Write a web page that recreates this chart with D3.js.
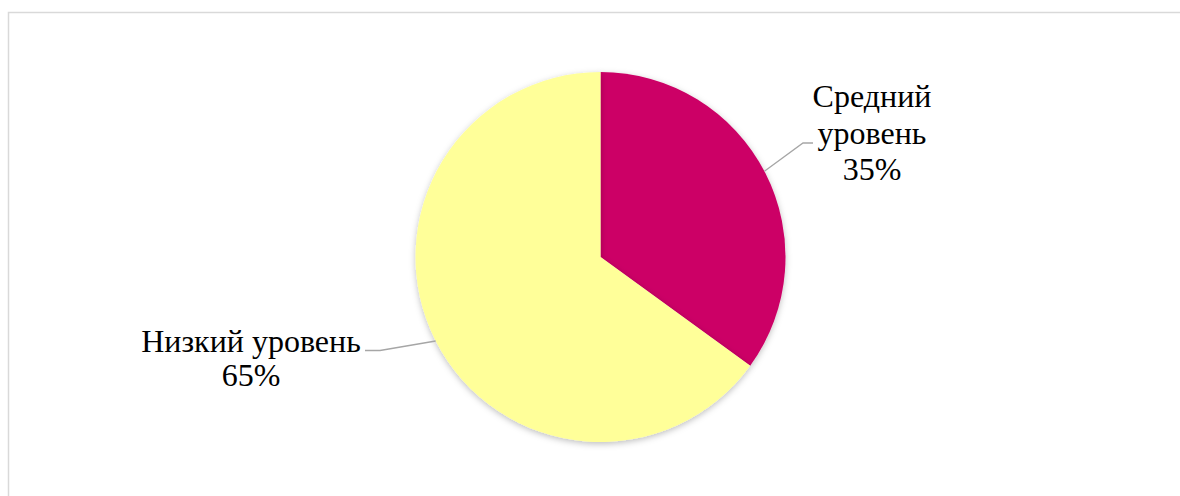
<!DOCTYPE html>
<html>
  <head>
    <meta charset="utf-8">
    <title>Уровни</title>
    <script src="https://cdn.jsdelivr.net/npm/d3@7"></script>
    <style>
      body { margin: 0; background: #fff; }
    </style>
  </head>
  <body>
    <div id="main"></div>
    <script>
      var WIDTH = 1180, HEIGHT = 496;
      var CX = 600.5, CY = 257, RADIUS = 185;

      var categories = ["Средний уровень", "Низкий уровень"];
      var values = [35, 65];
      var colors = ["#CC0066", "#FFFF99"];
      // label lines, one array per category
      var labelLines = [["Средний", "уровень", "35%"], ["Низкий уровень", "65%"]];

      var svg = d3.select('#main').append('svg')
                  .attr('width', WIDTH).attr('height', HEIGHT);

      // chart area border (continues past the right / bottom edge)
      svg.append('rect')
        .attr('x', 8.5).attr('y', 12.5)
        .attr('width', WIDTH + 20).attr('height', HEIGHT + 20)
        .attr('fill', 'none').attr('stroke', '#d9d9d9').attr('stroke-width', 1.5);

      var defs = svg.append('defs');
      var f = defs.append('filter').attr('id', 'shadow')
        .attr('x', '-10%').attr('y', '-10%').attr('width', '120%').attr('height', '120%');
      f.append('feDropShadow')
        .attr('dx', 0).attr('dy', 2).attr('stdDeviation', 3)
        .attr('flood-color', '#000').attr('flood-opacity', 0.25);

      var pie = d3.pie().sort(null).value(function(d) { return d; });
      var arc = d3.arc().innerRadius(0).outerRadius(RADIUS);
      var arcs = pie(values);

      var g = svg.append('g').attr('transform', 'translate(' + CX + ',' + CY + ')');
      g.selectAll('path.slice').data(arcs).enter()
        .append('path')
          .attr('class', 'slice')
          .attr('d', arc)
          .attr('fill', function(d, i) { return colors[i]; })
          .attr('filter', 'url(#shadow)');

      // label placement (center x, first baseline) and leader lines
      var labelPos = [[872, 107], [251, 352]];
      var lineGap = [36.5, 34];

      function edgePoint(a, frac) {
        // point on the pie edge at a fraction through the slice
        var ang = a.startAngle + (a.endAngle - a.startAngle) * frac;
        return [CX + RADIUS * Math.sin(ang), CY - RADIUS * Math.cos(ang)];
      }

      var leaders = [
        [edgePoint(arcs[0], 0.495), [803, 143], [813, 143]],
        [edgePoint(arcs[1], 0.5), [380, 350.5], [365, 350.5]]
      ];
      svg.selectAll('path.leader').data(leaders).enter()
        .append('path')
          .attr('class', 'leader')
          .attr('d', d3.line())
          .attr('fill', 'none')
          .attr('stroke', '#a6a6a6')
          .attr('stroke-width', 1.3);

      labelLines.forEach(function(lines, i) {
        var t = svg.append('text')
          .attr('text-anchor', 'middle')
          .style('font-family', "'Liberation Serif', 'Times New Roman', serif")
          .attr('font-size', 32)
          .attr('fill', '#000');
        lines.forEach(function(s, j) {
          t.append('tspan')
            .attr('x', labelPos[i][0])
            .attr('y', labelPos[i][1] + j * lineGap[i])
            .text(s);
        });
      });
    </script>
  </body>
</html>
